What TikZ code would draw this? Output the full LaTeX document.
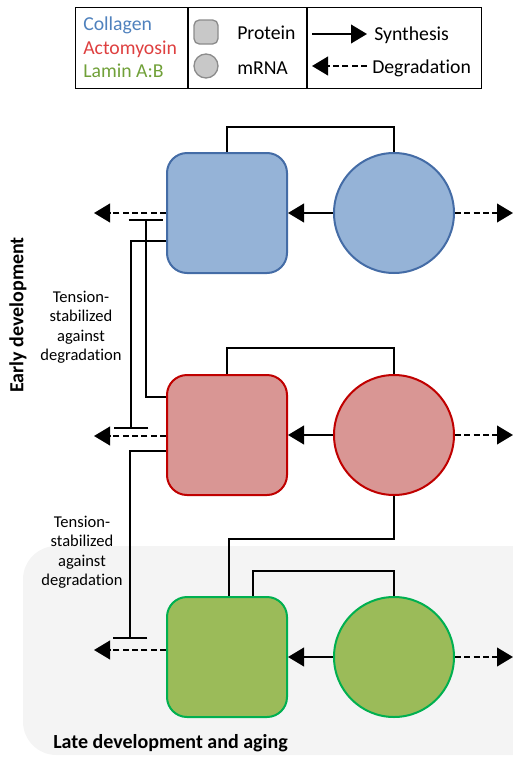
\documentclass[tikz,border=0pt]{standalone}
\usepackage{fontspec}
\setmainfont{Carlito}[Ligatures=NoCommon]
\usepackage{xcolor}
\usetikzlibrary{arrows.meta, positioning}
\definecolor{colfill}{RGB}{149, 179, 215}
\definecolor{coledge}{RGB}{68, 108, 166}
\definecolor{coltext}{RGB}{79, 129, 189}
\definecolor{actfill}{RGB}{217, 150, 148}
\definecolor{actedge}{RGB}{192, 0, 0}
\definecolor{acttext}{RGB}{222, 64, 64}
\definecolor{lamfill}{RGB}{155, 187, 89}
\definecolor{lamedge}{RGB}{0, 176, 80}
\definecolor{lamtext}{RGB}{112, 160, 56}
\definecolor{grisleg}{RGB}{200, 200, 200}
\definecolor{grisborde}{RGB}{140, 140, 140}
\definecolor{fondo}{RGB}{244, 244, 244}

\begin{document}
\begin{tikzpicture}[
    x=0.75pt, y=-0.75pt,
    protein/.style={rectangle, rounded corners=15pt, minimum size=90pt, line width=1.5pt},
    mrna/.style={circle, minimum size=90pt, inner sep=0pt, line width=1.5pt},
    synth/.style={-{Triangle[length=12pt, width=14pt]}, line width=1.5pt},
    degrad/.style={synth, dash pattern=on 4.5pt off 2.5pt},
    inhib/.style={-{Bar[width=26pt, line width=1.5pt]}, line width=1.5pt},
    link/.style={line width=1.5pt},
    legtext/.style={anchor=base west, inner sep=0pt, font=\fontsize{14.8}{17.8}\selectfont},
    note/.style={align=center, font=\fontsize{12.4}{14.6}\selectfont},
    title/.style={font=\bfseries\fontsize{15}{18}\selectfont}
]
\useasboundingbox (0,0) rectangle (513,757);
\fill [fondo, rounded corners=25pt] (23,546) rectangle (560,755);

\node (leg) [draw, line width=0.8pt, minimum width=304.5pt, minimum height=60.75pt,
             anchor=north west] at (75,7) {};
\draw [line width=0.8pt] (leg.north -| 188,0) -- (leg.south -| 188,0);
\draw [line width=0.8pt] (leg.north -| 307,0) -- (leg.south -| 307,0);
\node (lcol) [legtext, text=coltext] at (83,30) {Collagen};
\node (lact) [legtext, text=acttext] at (83,54) {Actomyosin};
\node (llam) [legtext, text=lamtext] at (83,77) {Lamin A:B};
\node (lsq) [rectangle, rounded corners=4pt, minimum size=18pt, fill=grisleg,
             draw=grisborde, line width=1pt] at (206,32) {};
\node (lci) [circle, minimum size=18pt, inner sep=0pt, fill=grisleg,
             draw=grisborde, line width=1pt] at (206,66) {};
\node (lpro) [legtext] at (237,39) {Protein};
\node (lrna) [legtext] at (237,74) {mRNA};
\coordinate (sa) at (312,34);
\coordinate (sb) at (367,34);
\coordinate (da) at (367,66);
\coordinate (db) at (312,66);
\draw [synth] (sa) -- (sb);
\draw [degrad] (da) -- (db);
\node (lsyn) [legtext] at (374,40) {Synthesis};
\node (ldeg) [legtext] at (372,73) {Degradation};

\node (cp) [protein, fill=colfill, draw=coledge] at (227,213) {};
\node (cm) [mrna, fill=colfill, draw=coledge] at (394,213) {};
\node (ap) [protein, fill=actfill, draw=actedge] at (227,435) {};
\node (am) [mrna, fill=actfill, draw=actedge] at (394,435) {};
\node (lp) [protein, fill=lamfill, draw=lamedge] at (227,657) {};
\node (lm) [mrna, fill=lamfill, draw=lamedge] at (394,657) {};

\coordinate (cin) at (94,213);
\coordinate (cout) at (513,213);
\coordinate (ain) at (94,436);
\coordinate (aout) at (513,435);
\coordinate (lin) at (94,650);
\coordinate (lout) at (513,657);
\coordinate (cbar) at (146,219);
\coordinate (abar) at (131,429);
\coordinate (lbar) at (130,639);

\draw [synth] (cm) -- (cp);
\draw [synth] (am) -- (ap);
\draw [synth] (lm) -- (lp);
\draw [degrad] (cm.east) -- (cout);
\draw [degrad] (am.east) -- (aout);
\draw [degrad] (lm.east) -- (lout);
\draw [degrad] (cp.west) -- (cin);
\draw [degrad] (ap.west |- ain) -- (ain);
\draw [degrad] (lp.west |- lin) -- (lin);

\draw [link] (cp.north) -- ++(0,-25) -| (cm.north);
\draw [link] (ap.north) -- ++(0,-26) -| (am.north);
\draw [link] (lm.north) -- ++(0,-25) -| ([xshift=19.5pt]lp.north);
\draw [link] (am.south) -- ++(0,43) -| ([xshift=1.5pt]lp.north);

\draw [inhib] ([yshift=-17pt]ap.north west) -| (cbar);
\draw [inhib] ([yshift=-21pt]cp.west) -| (abar);
\draw [inhib] ([yshift=-12pt]ap.west) -| (lbar);

\node (tens1) [note] at (81,327) {Tension-\\stabilized\\against\\degradation};
\node (tens2) [note] at (82,552) {Tension-\\stabilized\\against\\degradation};
\node (early) [title, rotate=90] at (18,315) {Early development};
\node (late) [title, anchor=base west, inner sep=0pt] at (53,748) {Late development and aging};
\end{tikzpicture}
\end{document}
